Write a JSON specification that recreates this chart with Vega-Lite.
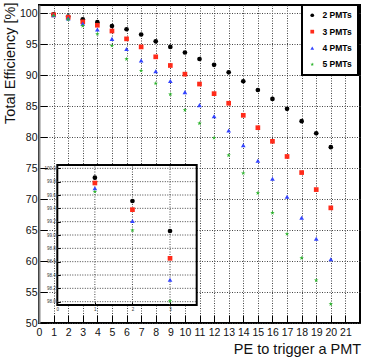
{
  "$schema": "https://vega.github.io/schema/vega-lite/v6.json",
  "width": 321,
  "height": 318,
  "autosize": {"type": "none"},
  "padding": {"left": 39, "top": 5, "right": 6, "bottom": 37},
  "background": "white",
  "config": {
    "font": "Liberation Sans",
    "view": {"stroke": "black", "strokeWidth": 2},
    "legend": {
      "orient": "none",
      "legendX": 263,
      "legendY": 0,
      "fillColor": "white",
      "strokeColor": "black",
      "strokeWidth": 2,
      "padding": 6,
      "rowPadding": 7.4,
      "labelFont": "Liberation Sans",
      "labelFontSize": 8.5,
      "labelFontWeight": "bold",
      "labelColor": "black",
      "labelOffset": 6,
      "symbolSize": 14,
      "symbolStrokeWidth": 0
    }
  },
  "datasets": {
    "eff": [
      {"pe": 1, "eff": 99.86, "series": "2 PMTs"}, {"pe": 2, "eff": 99.51, "series": "2 PMTs"}, {"pe": 3, "eff": 99.06, "series": "2 PMTs"}, {"pe": 4, "eff": 98.6, "series": "2 PMTs"}, {"pe": 5, "eff": 97.98, "series": "2 PMTs"}, {"pe": 6, "eff": 97.45, "series": "2 PMTs"}, {"pe": 7, "eff": 96.6, "series": "2 PMTs"}, {"pe": 8, "eff": 95.5, "series": "2 PMTs"}, {"pe": 9, "eff": 94.6, "series": "2 PMTs"}, {"pe": 10, "eff": 93.7, "series": "2 PMTs"}, {"pe": 11, "eff": 92.65, "series": "2 PMTs"}, {"pe": 12, "eff": 91.7, "series": "2 PMTs"}, {"pe": 13, "eff": 90.5, "series": "2 PMTs"}, {"pe": 14, "eff": 89.05, "series": "2 PMTs"}, {"pe": 15, "eff": 87.64, "series": "2 PMTs"}, {"pe": 16, "eff": 86.2, "series": "2 PMTs"}, {"pe": 17, "eff": 84.6, "series": "2 PMTs"}, {"pe": 18, "eff": 82.6, "series": "2 PMTs"}, {"pe": 19, "eff": 80.65, "series": "2 PMTs"}, {"pe": 20, "eff": 78.4, "series": "2 PMTs"},
      {"pe": 1, "eff": 99.78, "series": "3 PMTs"}, {"pe": 2, "eff": 99.38, "series": "3 PMTs"}, {"pe": 3, "eff": 98.65, "series": "3 PMTs"}, {"pe": 4, "eff": 98.1, "series": "3 PMTs"}, {"pe": 5, "eff": 97.17, "series": "3 PMTs"}, {"pe": 6, "eff": 95.9, "series": "3 PMTs"}, {"pe": 7, "eff": 94.6, "series": "3 PMTs"}, {"pe": 8, "eff": 93.0, "series": "3 PMTs"}, {"pe": 9, "eff": 91.6, "series": "3 PMTs"}, {"pe": 10, "eff": 90.2, "series": "3 PMTs"}, {"pe": 11, "eff": 88.6, "series": "3 PMTs"}, {"pe": 12, "eff": 87.05, "series": "3 PMTs"}, {"pe": 13, "eff": 85.5, "series": "3 PMTs"}, {"pe": 14, "eff": 83.55, "series": "3 PMTs"}, {"pe": 15, "eff": 81.55, "series": "3 PMTs"}, {"pe": 16, "eff": 79.35, "series": "3 PMTs"}, {"pe": 17, "eff": 76.9, "series": "3 PMTs"}, {"pe": 18, "eff": 74.3, "series": "3 PMTs"}, {"pe": 19, "eff": 71.55, "series": "3 PMTs"}, {"pe": 20, "eff": 68.6, "series": "3 PMTs"},
      {"pe": 1, "eff": 99.70, "series": "4 PMTs"}, {"pe": 2, "eff": 99.21, "series": "4 PMTs"}, {"pe": 3, "eff": 98.33, "series": "4 PMTs"}, {"pe": 4, "eff": 97.4, "series": "4 PMTs"}, {"pe": 5, "eff": 95.9, "series": "4 PMTs"}, {"pe": 6, "eff": 94.26, "series": "4 PMTs"}, {"pe": 7, "eff": 92.4, "series": "4 PMTs"}, {"pe": 8, "eff": 90.66, "series": "4 PMTs"}, {"pe": 9, "eff": 89.1, "series": "4 PMTs"}, {"pe": 10, "eff": 87.3, "series": "4 PMTs"}, {"pe": 11, "eff": 85.2, "series": "4 PMTs"}, {"pe": 12, "eff": 83.4, "series": "4 PMTs"}, {"pe": 13, "eff": 81.1, "series": "4 PMTs"}, {"pe": 14, "eff": 78.7, "series": "4 PMTs"}, {"pe": 15, "eff": 76.2, "series": "4 PMTs"}, {"pe": 16, "eff": 73.3, "series": "4 PMTs"}, {"pe": 17, "eff": 70.4, "series": "4 PMTs"}, {"pe": 18, "eff": 67.0, "series": "4 PMTs"}, {"pe": 19, "eff": 63.6, "series": "4 PMTs"}, {"pe": 20, "eff": 60.3, "series": "4 PMTs"},
      {"pe": 1, "eff": 99.65, "series": "5 PMTs"}, {"pe": 2, "eff": 99.07, "series": "5 PMTs"}, {"pe": 3, "eff": 98.01, "series": "5 PMTs"}, {"pe": 4, "eff": 96.7, "series": "5 PMTs"}, {"pe": 5, "eff": 94.8, "series": "5 PMTs"}, {"pe": 6, "eff": 92.65, "series": "5 PMTs"}, {"pe": 7, "eff": 90.76, "series": "5 PMTs"}, {"pe": 8, "eff": 88.7, "series": "5 PMTs"}, {"pe": 9, "eff": 86.95, "series": "5 PMTs"}, {"pe": 10, "eff": 84.4, "series": "5 PMTs"}, {"pe": 11, "eff": 82.26, "series": "5 PMTs"}, {"pe": 12, "eff": 79.9, "series": "5 PMTs"}, {"pe": 13, "eff": 77.1, "series": "5 PMTs"}, {"pe": 14, "eff": 74.2, "series": "5 PMTs"}, {"pe": 15, "eff": 71.0, "series": "5 PMTs"}, {"pe": 16, "eff": 67.8, "series": "5 PMTs"}, {"pe": 17, "eff": 64.4, "series": "5 PMTs"}, {"pe": 18, "eff": 60.5, "series": "5 PMTs"}, {"pe": 19, "eff": 56.9, "series": "5 PMTs"}, {"pe": 20, "eff": 53.07, "series": "5 PMTs"}
    ],
    "insetX": [{"t": 1}, {"t": 2}, {"t": 3}],
    "insetY": [{"v": 98}, {"v": 98.2}, {"v": 98.4}, {"v": 98.6}, {"v": 98.8}, {"v": 99}, {"v": 99.2}, {"v": 99.4}, {"v": 99.6}, {"v": 99.8}, {"v": 100}]
  },
  "layer": [
    {
      "data": {"name": "eff"},
      "mark": {"type": "point", "filled": true, "size": 22, "opacity": 1},
      "encoding": {
        "x": {
          "field": "pe", "type": "quantitative",
          "scale": {"domain": [0, 22], "nice": false, "zero": false},
          "axis": {
            "values": [0,1,2,3,4,5,6,7,8,9,10,11,12,13,14,15,16,17,18,19,20,21],
            "title": "PE to trigger a PMT",
            "grid": true, "gridDash": [1, 1.5], "gridColor": "#444", "gridWidth": 1,
            "domain": false,
            "tickSize": -8, "tickColor": "black", "tickWidth": 1,
            "labelFontSize": 10.5, "labelColor": "#111", "labelPadding": 12, "labelFlush": false, "labelOverlap": false,
            "titleFontSize": 14.5, "titleFontWeight": "normal", "titleColor": "#111",
            "titleX": 321.7, "titleY": 30.5, "titleAlign": "right", "titleBaseline": "alphabetic",
            "zindex": 0
          }
        },
        "y": {
          "field": "eff", "type": "quantitative",
          "scale": {"domain": [50, 101.37], "nice": false, "zero": false},
          "axis": {
            "values": [50,55,60,65,70,75,80,85,90,95,100],
            "title": "Total Efficiency [%]",
            "grid": true, "gridDash": [1, 1.5], "gridColor": "#444", "gridWidth": 1,
            "domain": true, "domainColor": "#888", "domainWidth": 2,
            "tickSize": -8, "tickColor": "black", "tickWidth": 1,
            "labelFontSize": 10.5, "labelColor": "#111", "labelPadding": 10, "labelFlush": false, "labelOverlap": false,
            "titleFontSize": 14.5, "titleFontWeight": "normal", "titleColor": "#111",
            "titleX": -25, "titleY": -3, "titleAlign": "right", "titleBaseline": "alphabetic", "titleAngle": -90,
            "zindex": 0
          }
        },
        "color": {
          "field": "series", "type": "nominal", "title": null,
          "scale": {"domain": ["2 PMTs", "3 PMTs", "4 PMTs", "5 PMTs"], "range": ["#000000", "#ff2b1a", "#3344ff", "#2fb52f"]}
        },
        "shape": {
          "field": "series", "type": "nominal", "title": null,
          "scale": {"domain": ["2 PMTs", "3 PMTs", "4 PMTs", "5 PMTs"], "range": ["circle", "square", "triangle-up", "M0,-1L0.2245,-0.309L0.951,-0.309L0.3633,0.118L0.5878,0.809L0,0.382L-0.5878,0.809L-0.3633,0.118L-0.951,-0.309L-0.2245,-0.309Z"]}
        }
      }
    },
    {
      "data": {"values": [{}]},
      "mark": {"type": "rect", "fill": "white", "stroke": "black", "strokeWidth": 2},
      "encoding": {
        "x": {"datum": 0, "type": "quantitative", "scale": {"domain": [0, 3.71], "range": [18.3, 157.7], "nice": false, "zero": false}, "axis": null},
        "x2": {"datum": 3.71},
        "y": {"datum": 97.95, "type": "quantitative", "scale": {"domain": [97.95, 100.05], "range": [300, 160], "nice": false, "zero": false}, "axis": null},
        "y2": {"datum": 100.05}
      }
    },
    {
      "data": {"name": "insetX"},
      "mark": {"type": "rule", "strokeDash": [1, 1.5], "color": "#444", "strokeWidth": 1},
      "encoding": {
        "x": {"field": "t", "type": "quantitative", "scale": {"domain": [0, 3.71], "range": [18.3, 157.7], "nice": false, "zero": false}, "axis": null},
        "y": {"datum": 97.95, "type": "quantitative", "scale": {"domain": [97.95, 100.05], "range": [300, 160], "nice": false, "zero": false}, "axis": null},
        "y2": {"datum": 100.05}
      }
    },
    {
      "data": {"name": "insetY"},
      "mark": {"type": "rule", "strokeDash": [1, 1.5], "color": "#444", "strokeWidth": 1},
      "encoding": {
        "y": {"field": "v", "type": "quantitative", "scale": {"domain": [97.95, 100.05], "range": [300, 160], "nice": false, "zero": false}, "axis": null},
        "x": {"datum": 0, "type": "quantitative", "scale": {"domain": [0, 3.71], "range": [18.3, 157.7], "nice": false, "zero": false}, "axis": null},
        "x2": {"datum": 3.71}
      }
    },
    {
      "data": {"name": "eff"},
      "transform": [{"filter": "datum.pe <= 3"}],
      "mark": {"type": "point", "filled": true, "size": 22, "opacity": 1},
      "encoding": {
        "x": {
          "field": "pe", "type": "quantitative",
          "scale": {"domain": [0, 3.71], "range": [18.3, 157.7], "nice": false, "zero": false},
          "axis": {"orient": "bottom", "offset": -18, "values": [0, 1, 2, 3], "title": null, "grid": false, "domain": false,
                   "tickSize": -3, "tickColor": "black", "labelFontSize": 4.5, "labelColor": "#333", "labelPadding": 4, "labelFlush": false, "zindex": 1}
        },
        "y": {
          "field": "eff", "type": "quantitative",
          "scale": {"domain": [97.95, 100.05], "range": [300, 160], "nice": false, "zero": false},
          "axis": {"orient": "left", "offset": -18.3, "values": [98, 98.2, 98.4, 98.6, 98.8, 99, 99.2, 99.4, 99.6, 99.8, 100], "title": null, "grid": false, "domain": false,
                   "tickSize": -3, "tickColor": "black", "labelFontSize": 4.5, "labelColor": "#333", "labelPadding": 5, "labelFlush": false, "labelOverlap": false, "zindex": 1}
        },
        "color": {
          "field": "series", "type": "nominal", "title": null,
          "scale": {"domain": ["2 PMTs", "3 PMTs", "4 PMTs", "5 PMTs"], "range": ["#000000", "#ff2b1a", "#3344ff", "#2fb52f"]}
        },
        "shape": {
          "field": "series", "type": "nominal", "title": null,
          "scale": {"domain": ["2 PMTs", "3 PMTs", "4 PMTs", "5 PMTs"], "range": ["circle", "square", "triangle-up", "M0,-1L0.2245,-0.309L0.951,-0.309L0.3633,0.118L0.5878,0.809L0,0.382L-0.5878,0.809L-0.3633,0.118L-0.951,-0.309L-0.2245,-0.309Z"]}
        }
      }
    }
  ],
  "resolve": {
    "scale": {"x": "independent", "y": "independent"},
    "axis": {"x": "independent", "y": "independent"}
  }
}
